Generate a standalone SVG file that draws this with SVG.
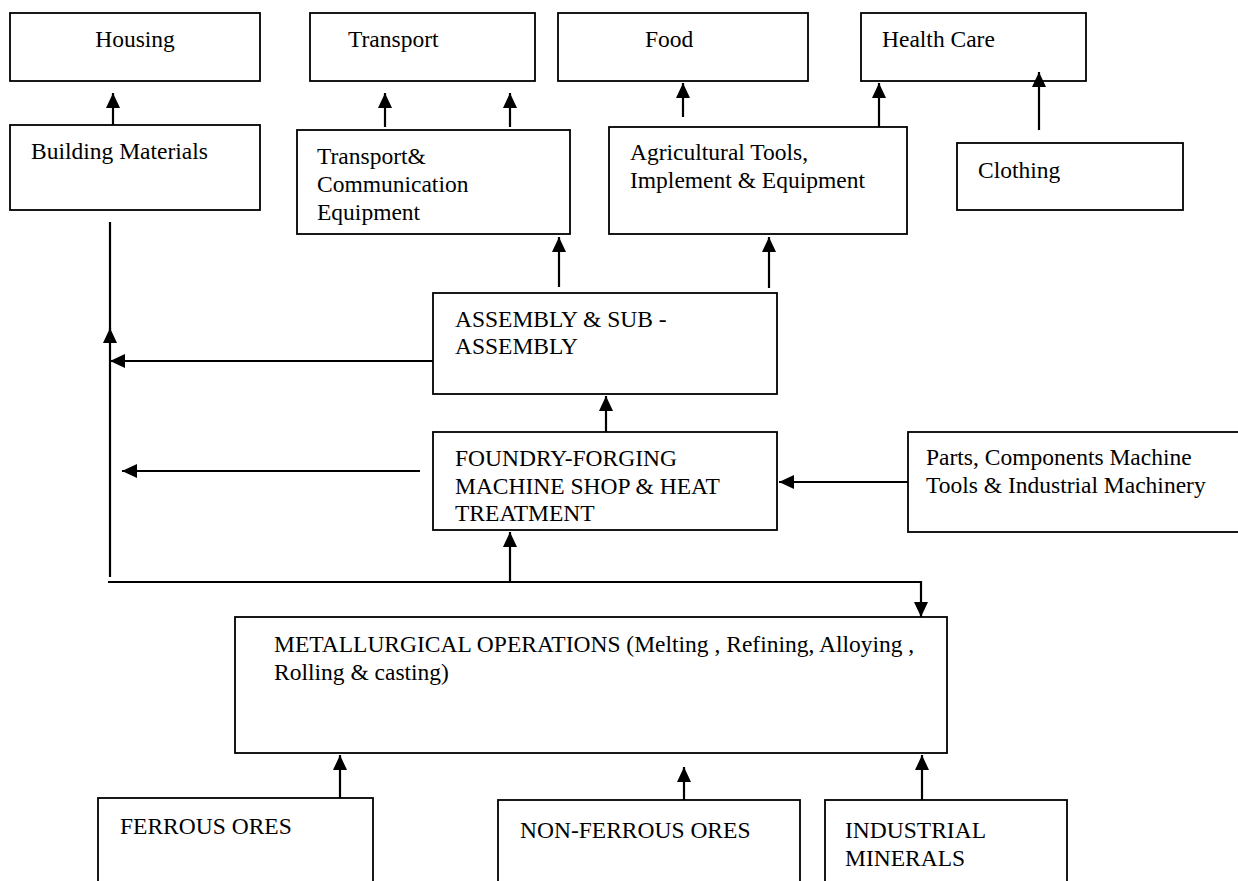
<svg xmlns="http://www.w3.org/2000/svg" width="1238" height="881" viewBox="0 0 1238 881">
<style>
.box{fill:#fff;stroke:#000;stroke-width:1.8}
.t{font-family:"Liberation Serif","Times New Roman",serif;font-size:23.5px;fill:#000}
.c{fill:none;stroke:#000;stroke-width:2.2}
</style>
<defs>
<marker id="ah" markerUnits="userSpaceOnUse" markerWidth="16" markerHeight="14" refX="15" refY="7" orient="auto" viewBox="0 0 16 14">
<path d="M0,0 L15,7 L0,14 z" fill="#000"/>
</marker>
</defs>
<rect width="1238" height="881" fill="#fff"/>
<g id="housing"><rect class="box" x="10" y="13" width="250" height="68"/><text class="t" x="135" y="47" text-anchor="middle">Housing</text></g>
<g id="transport"><rect class="box" x="310" y="13" width="225" height="68"/><text class="t" x="348" y="47">Transport</text></g>
<g id="food"><rect class="box" x="558" y="13" width="250" height="68"/><text class="t" x="645" y="47">Food</text></g>
<g id="health"><rect class="box" x="861" y="13" width="225" height="68"/><text class="t" x="882" y="47">Health Care</text></g>
<g id="building"><rect class="box" x="10" y="125" width="250" height="85"/><text class="t" x="31" y="159">Building Materials</text></g>
<g id="transcomm"><rect class="box" x="297" y="130" width="273" height="104"/><text class="t" x="317" y="164">Transport&amp;</text><text class="t" x="317" y="192">Communication</text><text class="t" x="317" y="220">Equipment</text></g>
<g id="agri"><rect class="box" x="609" y="127" width="298" height="107"/><text class="t" x="630" y="160">Agricultural Tools,</text><text class="t" x="630" y="188">Implement &amp; Equipment</text></g>
<g id="clothing"><rect class="box" x="957" y="143" width="226" height="67"/><text class="t" x="978" y="178">Clothing</text></g>
<g id="assembly"><rect class="box" x="433" y="293" width="344" height="101"/><text class="t" x="455" y="327">ASSEMBLY &amp; SUB -</text><text class="t" x="455" y="354">ASSEMBLY</text></g>
<g id="foundry"><rect class="box" x="433" y="432" width="344" height="98"/><text class="t" x="455" y="466">FOUNDRY-FORGING</text><text class="t" x="455" y="494">MACHINE SHOP &amp; HEAT</text><text class="t" x="455" y="521">TREATMENT</text></g>
<g id="parts"><rect class="box" x="908" y="432" width="340" height="100"/><text class="t" x="926" y="465">Parts, Components Machine</text><text class="t" x="926" y="493">Tools &amp; Industrial Machinery</text></g>
<g id="metallurgical"><rect class="box" x="235" y="617" width="712" height="136"/><text class="t" x="274" y="652">METALLURGICAL OPERATIONS (Melting , Refining, Alloying ,</text><text class="t" x="274" y="680">Rolling &amp; casting)</text></g>
<g id="ferrous"><rect class="box" x="98" y="798" width="275" height="100"/><text class="t" x="120" y="834">FERROUS ORES</text></g>
<g id="nonferrous"><rect class="box" x="498" y="800" width="302" height="100"/><text class="t" x="520" y="838">NON-FERROUS ORES</text></g>
<g id="industrial"><rect class="box" x="825" y="800" width="242" height="100"/><text class="t" x="845" y="838">INDUSTRIAL</text><text class="t" x="845" y="866">MINERALS</text></g>
<g id="connectors">
<path class="c" d="M113,125 L113,93" marker-end="url(#ah)"/>
<path class="c" d="M385,127 L385,93" marker-end="url(#ah)"/>
<path class="c" d="M510,127 L510,93" marker-end="url(#ah)"/>
<path class="c" d="M683,117 L683,83" marker-end="url(#ah)"/>
<path class="c" d="M879,127 L879,83" marker-end="url(#ah)"/>
<path class="c" d="M1039,130 L1039,72" marker-end="url(#ah)"/>
<path class="c" d="M559,287 L559,237" marker-end="url(#ah)"/>
<path class="c" d="M769,288 L769,237" marker-end="url(#ah)"/>
<path class="c" d="M606,432 L606,396" marker-end="url(#ah)"/>
<path class="c" d="M433,361 L110,361" marker-end="url(#ah)"/>
<path class="c" d="M420,471 L122,471" marker-end="url(#ah)"/>
<path class="c" d="M110,577 L110,328" marker-end="url(#ah)"/>
<path class="c" d="M110,330 L110,222"/>
<path class="c" d="M108,582 L921,582 L921,617" marker-end="url(#ah)"/>
<path class="c" d="M510,582 L510,532" marker-end="url(#ah)"/>
<path class="c" d="M908,482 L779,482" marker-end="url(#ah)"/>
<path class="c" d="M340,798 L340,755" marker-end="url(#ah)"/>
<path class="c" d="M684,800 L684,767" marker-end="url(#ah)"/>
<path class="c" d="M922,800 L922,755" marker-end="url(#ah)"/>
</g>
</svg>
